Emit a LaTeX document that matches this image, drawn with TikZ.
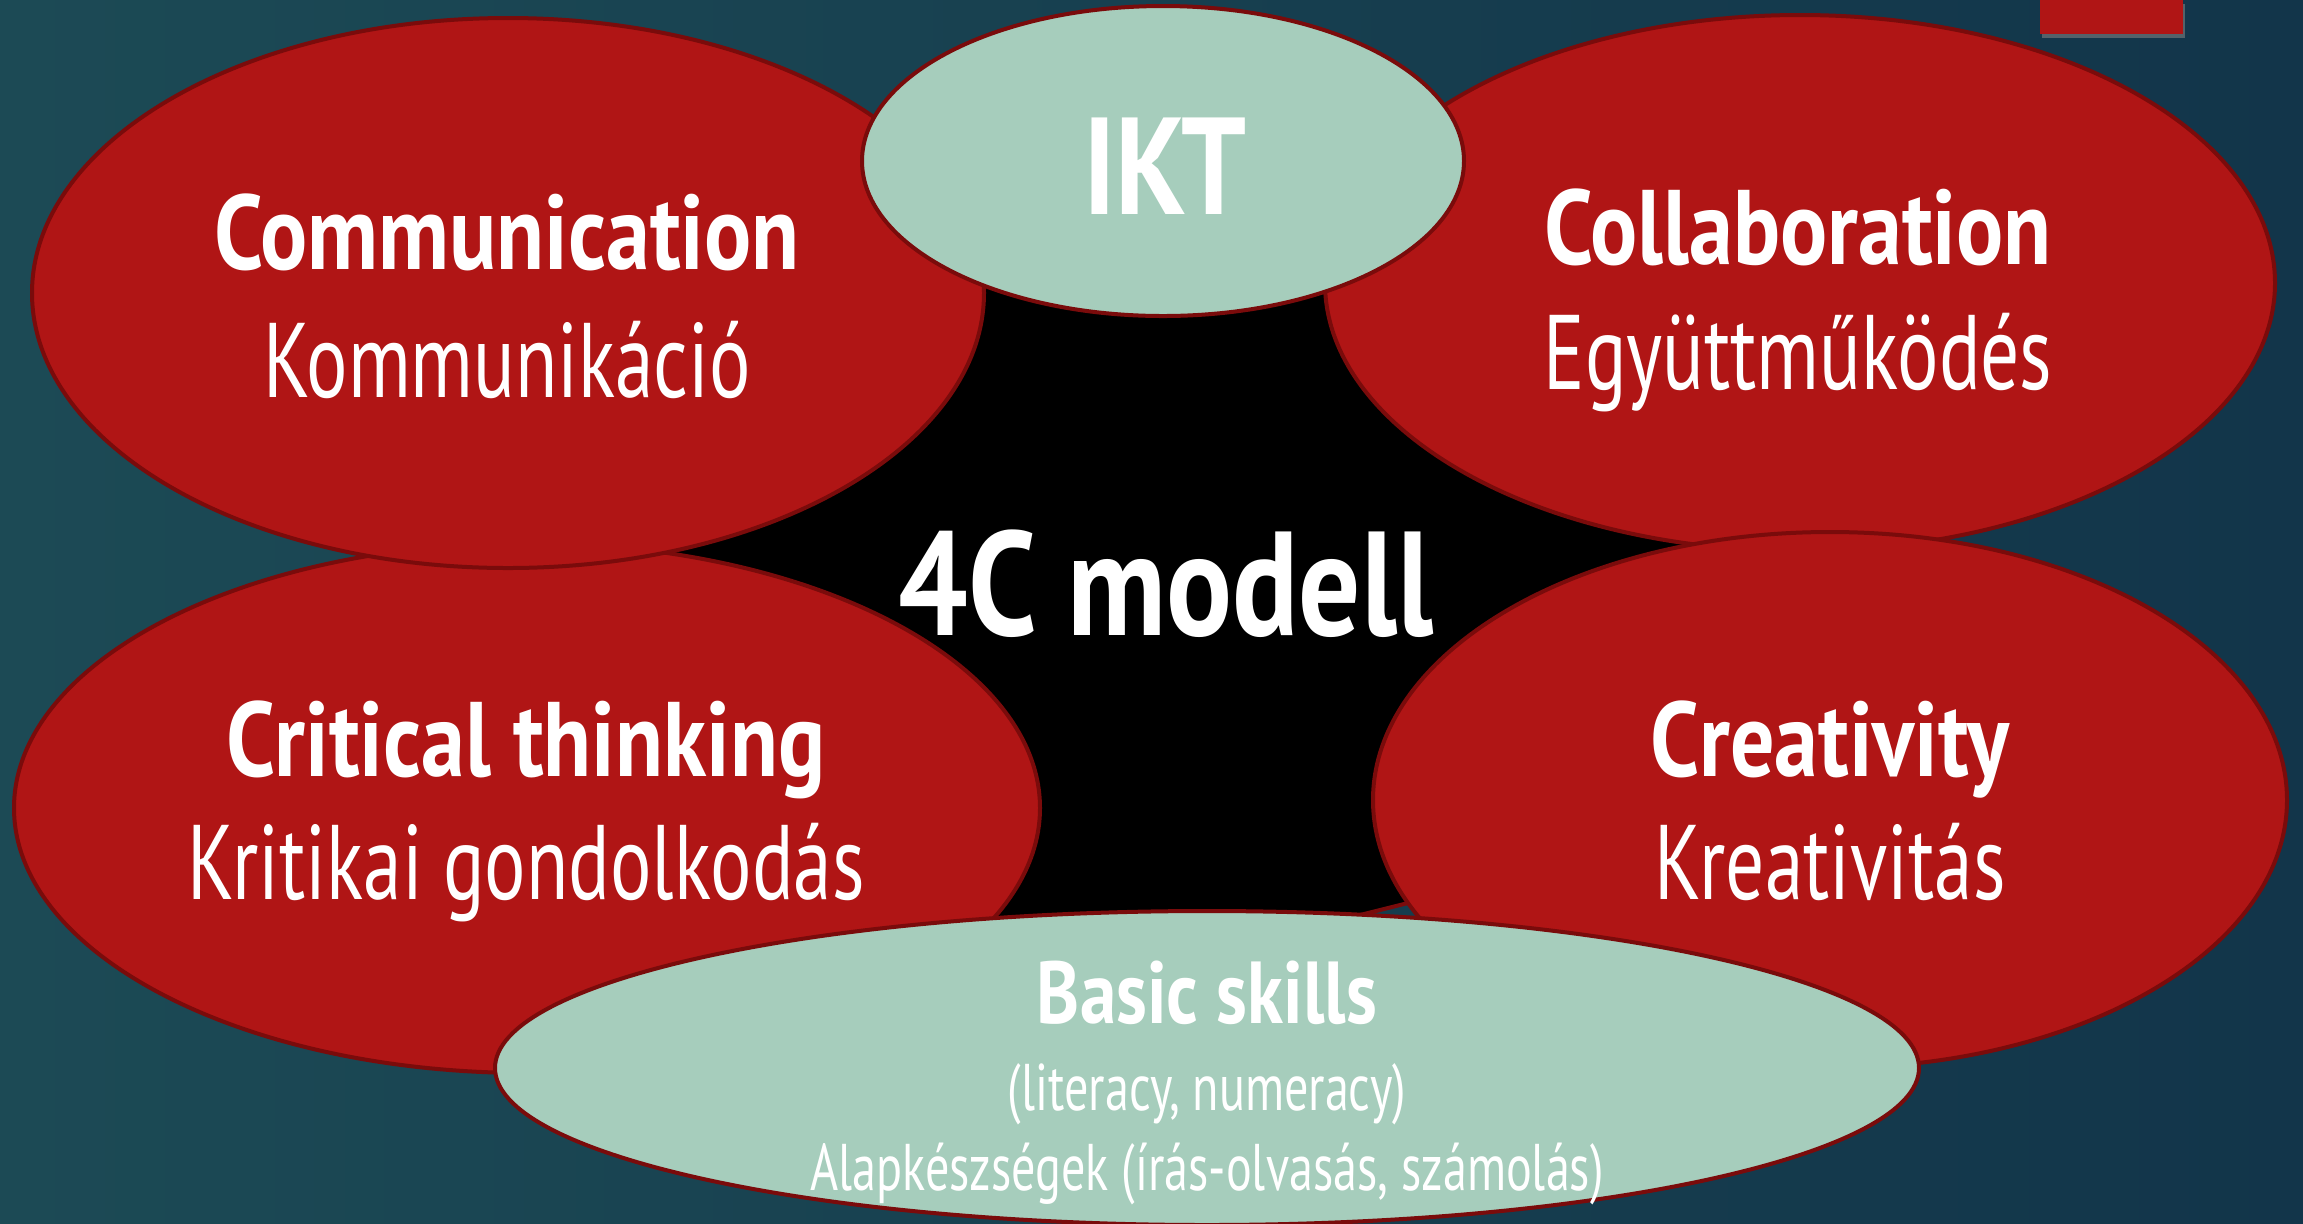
\documentclass[tikz,border=0pt]{standalone}
\usepackage{fontspec}
\setmainfont[FakeStretch=0.73,BoldFeatures={FakeStretch=0.83}]{PT Sans}
\usetikzlibrary{shapes.geometric,shadows}
\definecolor{pillred}{HTML}{B01515}
\definecolor{rimred}{HTML}{7A0B0B}
\definecolor{mintfill}{HTML}{A6CDBC}
\definecolor{bgleft}{HTML}{1C4A55}
\definecolor{bgmid}{HTML}{2B605E}
\definecolor{bgright}{HTML}{12354A}
\begin{document}
\begin{tikzpicture}[x=0.5pt,y=-0.5pt,
  oval/.style={ellipse,draw=rimred,line width=2pt,inner sep=0pt},
  redoval/.style={oval,fill=pillred},
  mintoval/.style={oval,fill=mintfill},
  head/.style={anchor=base,text=white,font=\fontsize{53}{60}\selectfont\bfseries},
  sub/.style={anchor=base,text=white,font=\fontsize{53}{60}\selectfont}]
\useasboundingbox (0,0) rectangle (2303,1223);
\shade[left color=bgleft,middle color=bgmid,right color=bgright] (0,0) rectangle (2303,1223);
\fill[pillred,drop shadow={opacity=0.6,shadow xshift=1pt,shadow yshift=-2pt}] (2040,0) rectangle (2183,34);
\filldraw[fill=black,draw=rimred,line width=2pt] (640,548) -- (800,200) -- (1550,200)
  -- (1750,548) -- (1500,880) -- (800,1055) -- cycle;
\node[redoval,minimum width=475pt,minimum height=268pt] (collab) at (1800,283) {};
\node[redoval,minimum width=457pt,minimum height=268pt] (creat) at (1830,800) {};
\node[redoval,minimum width=513pt,minimum height=265pt] (crit) at (527,808) {};
\node[redoval,minimum width=476pt,minimum height=275pt] (comm) at (508,293) {};
\node[mintoval,minimum width=301pt,minimum height=155pt] (ikt) at (1163,161) {};
\node[mintoval,minimum width=712pt,minimum height=157pt] (basic) at (1207,1068) {};
\node[head] (commhd) at (507,269) {Communication};
\node[sub] (commsub) at (507,397) {Kommunikáció};
\node[head] (collabhd) at (1798,264) {Collaboration};
\node[sub] (collabsub) at (1798,389) {Együttműködés};
\node[head] (crithd) at (526,776) {Critical thinking};
\node[sub] (critsub) at (526,899) {Kritikai gondolkodás};
\node[head] (creathd) at (1830,776) {Creativity};
\node[sub] (creatsub) at (1830,899) {Kreativitás};
\node[anchor=base,text=white,font=\fontsize{74}{80}\selectfont\bfseries] (model) at (1166,635) {4C modell};
\node[anchor=base,text=white,font=\fontsize{69}{80}\selectfont\bfseries] (iktlbl) at (1165,214) {IKT};
\node[anchor=base,text=white,font=\fontsize{44}{50}\selectfont\bfseries] (basichd) at (1207,1023) {Basic skills};
\node[anchor=base,text=white,font=\fontsize{33}{36}\selectfont] (basicen) at (1207,1110) {(literacy, numeracy)};
\node[anchor=base,text=white,font=\fontsize{33}{36}\selectfont] (basichu) at (1207,1190) {Alapkészségek (írás-olvasás, számolás)};
\end{tikzpicture}
\end{document}
